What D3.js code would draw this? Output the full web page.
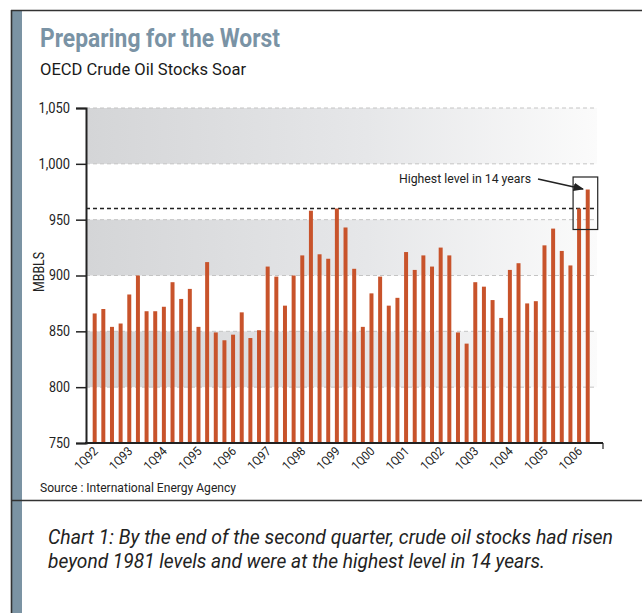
<!DOCTYPE html>
<html>
<head>
<meta charset="utf-8">
<script src="https://cdn.jsdelivr.net/npm/d3@7"></script>
<style>
  html, body { margin: 0; padding: 0; background: #fff; }
  svg { display: block; }
</style>
</head>
<body>
<svg id="chart" width="642" height="613"></svg>
<script>
// ---- data ----
const years = ["92","93","94","95","96","97","98","99","00","01","02","03","04","05","06"];
const quarters = [];
years.forEach(y => { for (let q = 1; q <= 4; q++) quarters.push(q + "Q" + y); });
const categories = quarters.slice(0, 58); // 1Q92 .. 2Q06
const stocks = [
  866, 870, 854, 857, 883, 900, 868, 868, 872, 894, 879, 888, 854, 912, 849, 842,
  847, 867, 844, 851, 908, 899, 873, 900, 918, 958, 919, 915, 960, 943, 906, 854,
  884, 899, 873, 880, 921, 905, 918, 908, 925, 918, 849, 839, 894, 890, 878, 862,
  905, 911, 875, 877, 927, 942, 922, 909, 960, 977
];
const tickLabels = years.map(y => "1Q" + y);
const yTicks = [750, 800, 850, 900, 950, 1000, 1050];
const bandRanges = [[800, 850], [900, 950], [1000, 1050]];
const previousHigh = 960;

// ---- drawing ----
const svg = d3.select("#chart");
const FONT = 'Roboto, "Noto Sans", sans-serif';

function fitText(sel, len) {
  return sel.attr("textLength", len).attr("lengthAdjust", "spacingAndGlyphs");
}

// frame
svg.append("rect").attr("x", 12).attr("y", 11).attr("width", 10).attr("height", 602).attr("fill", "#7b93a3");
svg.append("line").attr("x1", 11.5).attr("x2", 11.5).attr("y1", 10).attr("y2", 613).attr("stroke", "#333").attr("stroke-width", 1.6);
svg.append("line").attr("x1", 11).attr("x2", 642).attr("y1", 10.5).attr("y2", 10.5).attr("stroke", "#333").attr("stroke-width", 1.6);
svg.append("line").attr("x1", 11).attr("x2", 642).attr("y1", 500.5).attr("y2", 500.5).attr("stroke", "#333").attr("stroke-width", 1.6);

// titles
fitText(svg.append("text").attr("x", 40).attr("y", 47).attr("font-family", FONT).attr("font-weight", "bold")
  .attr("font-size", 26).attr("fill", "#7a93a5").text("Preparing for the Worst"), 240);
fitText(svg.append("text").attr("x", 40).attr("y", 75).attr("font-family", FONT)
  .attr("font-size", 17).attr("fill", "#1a1a1a").text("OECD Crude Oil Stocks Soar"), 206);

const x0 = 86, x1 = 603;
const x = d3.scaleBand().domain(categories).range([90.35, 592.05]).paddingInner(0.54).paddingOuter(0.27);
const y = d3.scaleLinear().domain([750, 1050]).range([443, 108]);

// gradient bands
const defs = svg.append("defs");
const grad = defs.append("linearGradient").attr("id", "bandGrad")
  .attr("gradientUnits", "userSpaceOnUse").attr("x1", x0).attr("x2", 597).attr("y1", 0).attr("y2", 0);
grad.append("stop").attr("offset", 0).attr("stop-color", "#d4d5d7");
grad.append("stop").attr("offset", 0.55).attr("stop-color", "#e6e7e9");
grad.append("stop").attr("offset", 1).attr("stop-color", "#fbfbfb");

svg.append("g").selectAll("rect").data(bandRanges).join("rect")
  .attr("x", x0).attr("width", 597 - x0)
  .attr("y", d => y(d[1])).attr("height", d => y(d[0]) - y(d[1]))
  .attr("fill", "url(#bandGrad)");

// dashed grid lines
svg.append("g").selectAll("line").data(yTicks.filter(v => v > 750)).join("line")
  .attr("x1", x0).attr("x2", 595).attr("y1", d => y(d)).attr("y2", d => y(d))
  .attr("stroke", "#c4c4c4").attr("stroke-width", 1).attr("stroke-dasharray", "4,3");

// previous high line
svg.append("line").attr("x1", x0).attr("x2", 597).attr("y1", y(previousHigh)).attr("y2", y(previousHigh))
  .attr("stroke", "#222").attr("stroke-width", 1.5).attr("stroke-dasharray", "4,3");

// bars
svg.append("g").selectAll("rect").data(stocks).join("rect")
  .attr("x", (d, i) => x(categories[i]))
  .attr("width", x.bandwidth())
  .attr("y", d => y(d))
  .attr("height", d => y(750) - y(d))
  .attr("fill", "#c8532b");

// y axis
const yAxis = svg.append("g").attr("transform", `translate(${x0},0)`)
  .call(d3.axisLeft(y).tickValues(yTicks).tickSize(10).tickFormat(d3.format(",")));
yAxis.select(".domain").attr("stroke", "#222").attr("stroke-width", 2);
yAxis.selectAll(".tick line").attr("stroke", "#222").attr("stroke-width", 1.5);
yAxis.selectAll(".tick text").attr("font-family", FONT).attr("font-size", 14).attr("fill", "#222").attr("x", -16)
  .each(function() {
    const t = this.textContent;
    const digits = t.replace(/[^0-9]/g, "").length, commas = t.length - digits;
    d3.select(this).attr("textLength", digits * 7 + commas * 3.5).attr("lengthAdjust", "spacingAndGlyphs");
  });

// x axis
const xAxis = svg.append("g").attr("transform", `translate(0,443)`)
  .call(d3.axisBottom(x).tickValues(tickLabels).tickSize(0).tickSizeOuter(0));
xAxis.select(".domain").remove();
xAxis.selectAll(".tick text")
  .attr("font-family", FONT).attr("font-size", 12.5).attr("fill", "#222")
  .attr("text-anchor", "end").attr("dy", 0).attr("y", 0)
  .attr("textLength", 27).attr("lengthAdjust", "spacingAndGlyphs")
  .attr("transform", "translate(4,9) rotate(-45)");
svg.append("line").attr("x1", x0 - 1).attr("x2", x1).attr("y1", 443).attr("y2", 443).attr("stroke", "#222").attr("stroke-width", 2);
svg.append("line").attr("x1", x1).attr("x2", x1).attr("y1", 443).attr("y2", 449).attr("stroke", "#222").attr("stroke-width", 1.2);

// y label
fitText(svg.append("text").attr("transform", "translate(44,272) rotate(-90)").attr("text-anchor", "middle")
  .attr("font-family", FONT).attr("font-size", 14).attr("fill", "#222").text("MBBLS"), 40);

// annotation
defs.append("marker").attr("id", "arrow").attr("viewBox", "0 0 10 10").attr("refX", 9).attr("refY", 5)
  .attr("markerWidth", 7).attr("markerHeight", 7).attr("orient", "auto")
  .append("path").attr("d", "M0,1 L10,5 L0,9 Z").attr("fill", "#222");
fitText(svg.append("text").attr("x", 399).attr("y", 183)
  .attr("font-family", FONT).attr("font-size", 13).attr("fill", "#222").text("Highest level in 14 years"), 132);
svg.append("line").attr("x1", 538).attr("y1", 179).attr("x2", 583).attr("y2", 189)
  .attr("stroke", "#222").attr("stroke-width", 1.5).attr("marker-end", "url(#arrow)");
svg.append("rect")
  .attr("x", x(categories[56]) - 4).attr("y", 177)
  .attr("width", (x(categories[57]) + x.bandwidth() + 8) - (x(categories[56]) - 4)).attr("height", 52.5)
  .attr("fill", "none").attr("stroke", "#222").attr("stroke-width", 1.2);

// source
fitText(svg.append("text").attr("x", 40).attr("y", 492).attr("font-family", FONT).attr("font-size", 12.5)
  .attr("fill", "#222").text("Source : International Energy Agency"), 196);

// caption
const cap = svg.append("text").attr("font-family", FONT).attr("font-style", "italic")
  .attr("font-size", 19.5).attr("fill", "#222");
fitText(cap.append("tspan").attr("x", 48).attr("y", 544).text("Chart 1: By the end of the second quarter, crude oil stocks had risen"), 565);
fitText(cap.append("tspan").attr("x", 48).attr("y", 568).text("beyond 1981 levels and were at the highest level in 14 years."), 497);
</script>
</body>
</html>
